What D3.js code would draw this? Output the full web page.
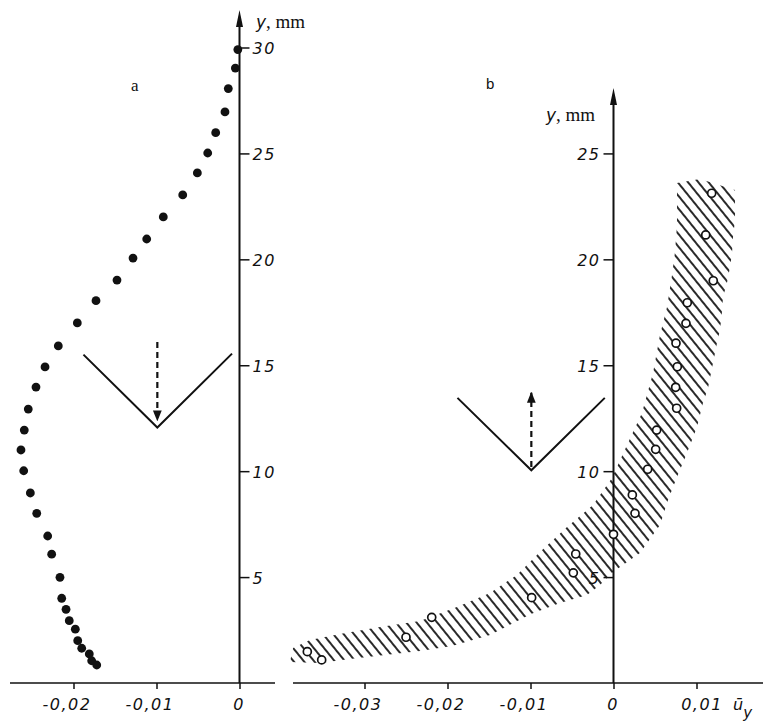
<!DOCTYPE html>
<html><head><meta charset="utf-8">
<script src="https://cdn.jsdelivr.net/npm/d3@7"></script>
<style>
html,body{margin:0;padding:0;background:#fff;}
svg{display:block;}
.tick text{font-family:"DejaVu Sans",sans-serif;font-style:italic;font-size:16px;letter-spacing:1.5px;fill:#111;}
</style></head>
<body><svg id="c" width="763" height="724"></svg>
<script>
// ---------- DATA ----------
// Panel a: filled points (u_y, y mm)
const aU = [-0.0002,-0.0005,-0.00135,-0.00175,-0.00287,-0.00383,-0.00508,-0.00684,-0.00918,-0.01118,-0.01283,-0.01476,-0.01729,-0.01954,-0.02183,-0.02343,-0.02452,-0.02545,-0.02593,-0.02633,-0.02600,-0.02520,-0.02443,-0.02311,-0.02263,-0.02163,-0.02142,-0.02090,-0.02051,-0.01978,-0.01949,-0.01901,-0.01810,-0.01781,-0.01720];
const aY = [29.9,29.03,28.06,26.96,25.98,25.02,24.08,23.04,22.0,20.96,20.06,19.02,18.05,17.0,15.91,14.92,13.97,12.93,11.94,11.0,10.02,8.97,8.01,6.94,6.08,4.99,4.0,3.48,2.94,2.54,2.0,1.64,1.37,1.05,0.85];
// Panel b: open points
const bU = [0.01183,0.01111,0.01202,0.00889,0.00873,0.00753,0.00769,0.00749,0.00761,0.00520,0.00508,0.00412,0.00227,0.00259,0.0,-0.00455,-0.00484,-0.00986,-0.02190,-0.02500,-0.03689,-0.03516];
const bY = [23.12,21.15,18.99,17.95,16.98,16.04,14.93,13.96,12.97,11.94,11.03,10.09,8.88,8.01,7.02,6.09,5.20,4.03,3.10,2.16,1.48,1.09];
// Panel b: hatched band boundaries (upper/left edge, then lower/right edge)
const bandUpperU = [-0.03861,-0.03657,-0.03295,-0.02813,-0.02331,-0.01886,-0.01488,-0.01163,-0.00886,-0.00560,-0.00247,-0.00018,0.00163,0.00343,0.00476,0.00560,0.00645,0.00705,0.00741,0.00765,0.00765,0.01042,0.01464];
const bandUpperY = [1.65,2.03,2.31,2.64,2.93,3.59,4.25,5.10,6.18,7.36,8.40,9.68,11.24,12.75,14.64,16.43,17.75,19.26,20.35,21.62,23.6,23.79,23.27];
const bandLowerU = [0.01464,0.01464,0.01440,0.01428,0.01404,0.01367,0.01319,0.01307,0.01283,0.01247,0.01199,0.01139,0.01078,0.01006,0.00946,0.00861,0.00765,0.00657,0.00560,0.00319,-0.00006,-0.00163,-0.00319,-0.00645,-0.00994,-0.01488,-0.01946,-0.02331,-0.02753,-0.03175,-0.03536,-0.03898];
const bandLowerY = [22.57,21.86,21.05,20.30,19.64,18.88,18.22,17.51,16.66,16.05,15.11,13.93,13.22,12.09,11.47,10.62,9.72,8.64,7.46,6.14,5.24,4.63,4.15,3.78,3.26,2.27,1.75,1.51,1.32,1.13,0.94,0.99];
// Ticks
const aXTicks = [-0.02,-0.01,0];
const aYTicks = [5,10,15,20,25,30];
const bXTicks = [-0.03,-0.02,-0.01,0,0.01];
const bYTicks = [5,10,15,20,25];
// Wedge symbols (V shape) and dashed arrows
const vAU = [-0.0188,-0.0099,-0.0009], vAY = [15.5,12.06,15.55];
const arrAU = [-0.0099,-0.0099], arrAY = [16.1,12.4];
const vBU = [-0.0188,-0.0099,-0.00105], vBY = [13.46,10.04,13.46];
const arrBU = [-0.0099,-0.0099], arrBY = [10.2,13.7];

// ---------- SCALES ----------
const svg = d3.select("#c");
const yS = d3.scaleLinear().domain([0,30]).range([683,47.5]);
const xA = d3.scaleLinear().domain([-0.02,0]).range([73.5,239.5]);
const xB = d3.scaleLinear().domain([-0.03,0]).range([364.5,613.5]);

const fmt = d => d===0 ? "0" : (d<0?"-":"") + Math.abs(d).toFixed(2).replace(".",",");

const defs = svg.append("defs");
defs.append("pattern").attr("id","hatch").attr("patternUnits","userSpaceOnUse")
  .attr("width",10).attr("height",8.0).attr("patternTransform","rotate(51)")
  .append("line").attr("x1",-1).attr("x2",11).attr("y1",4).attr("y2",4)
  .attr("stroke","#111").attr("stroke-width",1.8);
["A","B"].forEach(k=>{
  const m = defs.append("marker").attr("id","ah"+k).attr("viewBox","0 0 10 10")
    .attr("refX",9).attr("refY",5).attr("markerWidth",5).attr("markerHeight",5)
    .attr("orient","auto");
  m.append("path").attr("d","M0,1L10,5L0,9Z").attr("fill","#111");
});

// ---------- BAND (panel b) ----------
const upper = bandUpperU.map((u,i)=>[xB(u), yS(bandUpperY[i])]);
const lower = bandLowerU.map((u,i)=>[xB(u), yS(bandLowerY[i])]);
svg.append("path").attr("d", d3.line()(upper.concat(lower)) + "Z")
  .attr("fill","url(#hatch)").attr("stroke","none");

// ---------- AXES ----------
function vAxisLine(x, yTop){
  svg.append("line").attr("x1",x).attr("x2",x).attr("y1",683).attr("y2",yTop+12)
    .attr("stroke","#111").attr("stroke-width",2);
  svg.append("path").attr("d",`M${x},${yTop} L${x-3.5},${yTop+17} L${x+3.5},${yTop+17} Z`).attr("fill","#111");
}
// panel a
svg.append("line").attr("x1",10).attr("x2",275).attr("y1",683).attr("y2",683).attr("stroke","#111").attr("stroke-width",1.6);
vAxisLine(xA(0), 10);
const gAy = svg.append("g").attr("transform",`translate(${xA(0)},0)`)
  .call(d3.axisRight(yS).tickValues(aYTicks).tickSize(10).tickPadding(3).tickFormat(d3.format("d")));
const gAx = svg.append("g").attr("transform","translate(0,683)")
  .call(d3.axisBottom(xA).tickValues(aXTicks).tickSize(6).tickPadding(10).tickFormat(fmt));
// panel b
svg.append("line").attr("x1",293).attr("x2",763).attr("y1",683).attr("y2",683).attr("stroke","#111").attr("stroke-width",1.6);
vAxisLine(xB(0), 88);
const gBy = svg.append("g").attr("transform",`translate(${xB(0)},0)`)
  .call(d3.axisLeft(yS).tickValues(bYTicks).tickSize(10).tickPadding(3).tickFormat(d3.format("d")));
const gBx = svg.append("g").attr("transform","translate(0,683)")
  .call(d3.axisBottom(xB).tickValues(bXTicks).tickSize(6).tickPadding(10).tickFormat(fmt));

[gAy,gAx,gBy,gBx].forEach(g=>{
  g.select(".domain").remove();
  g.selectAll(".tick line").attr("stroke","#111").attr("stroke-width",1.5);
});
[gAx,gBx].forEach(g=>g.selectAll(".tick text").attr("dx",d=>d<0?-7:(d>0?5:-1)));
gAy.selectAll(".tick text").attr("dy","0.38em");
gBy.selectAll(".tick text").attr("dy","0.38em");

// ---------- WEDGES & ARROWS ----------
function wedge(xs, us, ys){
  svg.append("path").attr("d", d3.line()(us.map((u,i)=>[xs(u), yS(ys[i])])))
    .attr("fill","none").attr("stroke","#111").attr("stroke-width",2);
}
function arrow(xs, us, ys, k){
  svg.append("path").attr("d", d3.line()(us.map((u,i)=>[xs(u), yS(ys[i])])))
    .attr("fill","none").attr("stroke","#111").attr("stroke-width",2.2)
    .attr("stroke-dasharray","6,4").attr("marker-end",`url(#ah${k})`);
}
wedge(xA, vAU, vAY); arrow(xA, arrAU, arrAY, "A");
wedge(xB, vBU, vBY); arrow(xB, arrBU, arrBY, "B");

// ---------- POINTS ----------
svg.append("g").selectAll("circle").data(aU).join("circle")
  .attr("cx",d=>xA(d)).attr("cy",(d,i)=>yS(aY[i])).attr("r",4.4).attr("fill","#111");
svg.append("g").selectAll("circle").data(bU).join("circle")
  .attr("cx",d=>xB(d)).attr("cy",(d,i)=>yS(bY[i])).attr("r",4)
  .attr("fill","#fff").attr("stroke","#111").attr("stroke-width",1.7);

// ---------- LABELS ----------
function yLabel(x, y){
  const t = svg.append("text").attr("x",x).attr("y",y).attr("fill","#111");
  t.append("tspan").text("y").attr("font-family","DejaVu Sans").attr("font-style","italic").attr("font-size",17);
  t.append("tspan").text(", mm").attr("font-family","Liberation Serif").attr("font-size",19);
}
yLabel(256, 28);
yLabel(546, 121);
svg.append("text").attr("x",131).attr("y",91).text("a").attr("font-family","Liberation Serif").attr("font-size",17).attr("fill","#111");
svg.append("text").attr("x",486).attr("y",89).text("b").attr("font-family","Liberation Sans").attr("font-size",15).attr("fill","#111");
const ul = svg.append("text").attr("x",733).attr("y",710).attr("fill","#111")
  .attr("font-family","DejaVu Sans").attr("font-style","italic").attr("font-size",16);
ul.append("tspan").text("ū");
ul.append("tspan").text("y").attr("dy",8).attr("font-size",15);
</script></body></html>
